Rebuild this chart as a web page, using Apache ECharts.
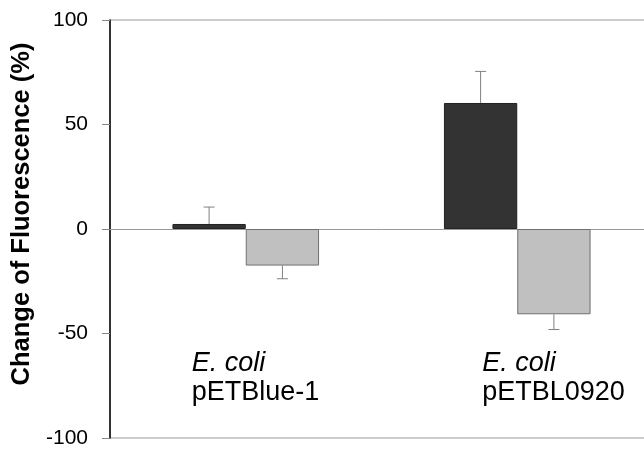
<!DOCTYPE html>
<html>
<head>
<meta charset="utf-8">
<script src="https://cdn.jsdelivr.net/npm/echarts@6/dist/echarts.min.js"></script>
<style>
  html, body { margin: 0; padding: 0; background: #fff; overflow: hidden; }
  /* plot runs a little past the right edge of the window, as in the source */
  #chart { width: 653px; height: 450px; }
</style>
</head>
<body>
<div id="chart"></div>
<script>
// values
const categories = ["pETBlue-1", "pETBL0920"];
const strainLabels = ["E. coli", "E. coli"];
const darkValues = [2.4, 60.3];
const darkErrors = [8.1, 15.1];
const grayValues = [-17.5, -40.8];
const grayErrors = [6.3, 7.3];
const yTicks = [-100, -50, 0, 50, 100];

const font = "'Liberation Sans', Arial, Helvetica, sans-serif";
const gapRatio = 0.46;

let myChart = echarts.init(document.getElementById("chart"));

// one-sided error bar (up for positive, down for negative)
function errorBar(side) {
  return function(params, api) {
    const cat = api.value(0);
    const val = api.value(1);
    const err = api.value(2);
    const band = api.size([1, 0])[0];
    const barW = band * (1 - gapRatio) / 2;
    const x = api.coord([cat, 0])[0] + side * barW / 2;
    const end = val >= 0 ? val + err : val - err;
    const y0 = api.coord([cat, val])[1];
    const y1 = api.coord([cat, end])[1];
    const style = { stroke: "#808080", lineWidth: 1 };
    return {
      type: "group",
      children: [
        { type: "line", shape: { x1: x, y1: y0, x2: x, y2: y1 }, style: style },
        { type: "line", shape: { x1: x - 5.5, y1: y1, x2: x + 5.5, y2: y1 }, style: style }
      ]
    };
  };
}

let option = {
  animation: false,
  grid: {
    left: 110,
    right: 0,
    top: 20,
    bottom: 12,
    show: true,
    borderColor: "#999999",
    borderWidth: 1
  },
  xAxis: {
    type: "category",
    data: categories,
    axisLine: { onZero: true, lineStyle: { color: "#999999", width: 1 } },
    axisTick: { show: false },
    axisLabel: { show: false },
    splitLine: { show: false }
  },
  yAxis: {
    type: "value",
    min: yTicks[0],
    max: yTicks[yTicks.length - 1],
    interval: 50,
    name: "Change of Fluorescence (%)",
    nameLocation: "middle",
    nameGap: 74,
    nameTextStyle: {
      fontFamily: font,
      fontSize: 25.5,
      fontWeight: "bold",
      color: "#000",
      padding: [0, 0, 0, 30]
    },
    axisLine: { show: true, lineStyle: { color: "#000", width: 1.5 } },
    axisTick: { show: true, length: 8, lineStyle: { color: "#888" } },
    axisLabel: {
      fontFamily: font,
      fontSize: 21,
      color: "#000",
      margin: 22
    },
    splitLine: { show: false }
  },
  series: [
    {
      type: "bar",
      data: darkValues,
      barGap: "0%",
      barCategoryGap: gapRatio * 100 + "%",
      itemStyle: { color: "#333333", borderColor: "#222222", borderWidth: 1 }
    },
    {
      type: "bar",
      data: grayValues,
      barGap: "0%",
      barCategoryGap: gapRatio * 100 + "%",
      itemStyle: { color: "#c0c0c0", borderColor: "#707070", borderWidth: 1 }
    },
    {
      type: "custom",
      renderItem: errorBar(-1),
      data: darkValues.map((v, i) => [i, v, darkErrors[i]]),
      z: 5
    },
    {
      type: "custom",
      renderItem: errorBar(1),
      data: grayValues.map((v, i) => [i, v, grayErrors[i]]),
      z: 5
    }
  ]
};
myChart.setOption(option);

// strain labels inside the plot, under each group
const labelShift = [-54, -35];
myChart.setOption({
  graphic: categories.map((c, i) => ({
    type: "text",
    x: myChart.convertToPixel({ xAxisIndex: 0 }, i) + labelShift[i],
    y: 348,
    style: {
      text: "{i|" + strainLabels[i] + "}\n{n|" + c + "}",
      rich: {
        i: { fontFamily: font, fontSize: 27, fontStyle: "italic", lineHeight: 30, fill: "#000" },
        n: { fontFamily: font, fontSize: 27, lineHeight: 30, fill: "#000" }
      }
    }
  }))
});
</script>
</body>
</html>
